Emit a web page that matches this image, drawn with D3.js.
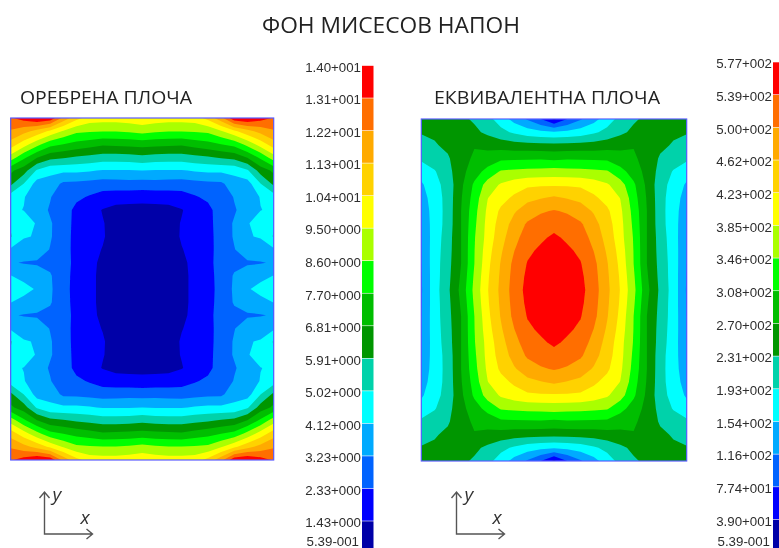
<!DOCTYPE html>
<html><head><meta charset="utf-8">
<script src="https://cdn.jsdelivr.net/npm/d3@7/dist/d3.min.js"></script>
<style>html,body{margin:0;padding:0;background:#fff;overflow:hidden}svg{display:block}</style>
</head><body><svg id="c" width="779" height="548"></svg>
<script>
const title = "ФОН МИСЕСОВ НАПОН";
const ribbedTitle = "ОРЕБРЕНА ПЛОЧА";
const equivTitle = "ЕКВИВАЛЕНТНА ПЛОЧА";
const bandColors = ["#0000a8","#0000ff","#0064ff","#00aaff","#00ffff","#00d2aa","#009600","#00be00","#00ff00","#aaff00","#ffff00","#ffd200","#ffaa00","#ff6e00","#ff0000"];
const ribbedLevels = [0.539,1.43,2.33,3.23,4.12,5.02,5.91,6.81,7.70,8.60,9.50,10.4,11.3,12.2,13.1,14.0];
const ribbedLabels = ["5.39-001","1.43+000","2.33+000","3.23+000","4.12+000","5.02+000","5.91+000","6.81+000","7.70+000","8.60+000","9.50+000","1.04+001","1.13+001","1.22+001","1.31+001","1.40+001"];
const equivLevels = [0.539,39,77.4,116,154,193,231,270,308,346,385,423,462,500,539,577];
const equivLabels = ["5.39-001","3.90+001","7.74+001","1.16+002","1.54+002","1.93+002","2.31+002","2.70+002","3.08+002","3.46+002","3.85+002","4.23+002","4.62+002","5.00+002","5.39+002","5.77+002"];
// top-left quarter of each symmetric field
const ribbedQuarter = [
[13.0,13.5,14.0,13.8,11.9,10.7,10.0,9.9,9.9,10.0,10.2],
[12.1,11.6,11.0,10.2,9.4,8.8,8.7,8.65,8.65,8.75,8.9],
[10.9,9.9,8.9,8.0,7.7,7.4,7.2,6.95,7.0,7.05,7.15],
[9.1,7.9,6.85,6.2,6.0,5.8,5.65,5.5,5.5,5.55,5.65],
[7.0,6.3,4.9,4.35,4.3,4.3,4.2,4.05,4.05,4.05,4.12],
[6.1,5.0,3.75,3.75,3.05,3.0,2.9,2.8,2.85,2.9,2.85],
[4.6,4.16,3.7,3.28,2.7,2.5,2.25,1.95,1.85,1.8,1.75],
[4.25,4.1,3.6,3.15,2.75,2.1,1.8,1.38,1.15,1.1,1.1],
[4.9,4.5,4.05,3.3,2.85,2.0,1.75,1.48,1.1,1.0,1.0],
[5.1,4.2,4.05,3.3,2.8,1.98,1.75,1.5,1.1,1.0,0.95],
[4.0,3.7,3.6,3.2,2.75,2.0,1.65,1.4,1.05,0.95,0.95],
[3.3,3.18,3.15,3.05,2.8,2.0,1.6,1.3,1.0,0.95,0.95],
[4.15,3.75,3.55,3.3,2.75,1.95,1.6,1.25,1.0,0.95,0.95],
[4.9,4.5,4.0,3.35,2.7,1.95,1.6,1.25,1.0,0.95,0.95]
];
const equivQuarter = [
[240,245,250,240,225,205,175,140,112,77,30],
[234,238,250,255,240,222,204,187,172,163,158],
[215,227,240,262,268,260,253,248,246,244,243],
[200,212,226,258,275,285,300,302,303,303,300],
[170,190,218,258,290,322,350,355,358,360,363],
[148,180,208,262,315,362,390,405,415,418,418],
[138,172,208,267,325,384,410,430,452,460,468],
[130,170,208,270,333,393,430,458,480,495,503],
[125,170,209,270,338,398,440,476,505,520,527],
[120,172,213,270,343,400,448,488,518,533,545],
[118,174,215,270,345,407,457,499,532,545,558],
[116,175,218,270,346,413,465,510,541,558,567],
[114,175,220,275,352,418,469,514,547,564,573],
[112,176,223,281,357,421,472,517,551,567,577]
];

const svg = d3.select("#c");
const defs = svg.append("defs");
defs.append("filter").attr("id","soft").attr("x","-5%").attr("y","-5%").attr("width","110%").attr("height","110%")
  .append("feGaussianBlur").attr("stdDeviation",0.45);

function mirror(q){
  const rows = q.concat(q.slice(0,-1).reverse());
  return rows.flatMap(r => r.concat(r.slice(0,-1).reverse()));
}
function field(q, levels, box, id){
  const nx = q[0].length*2-1, ny = q.length*2-1;
  const x = d3.scaleLinear().domain([0.5,nx-0.5]).range([box.x0,box.x1]);
  const y = d3.scaleLinear().domain([0.5,ny-0.5]).range([box.y0,box.y1]);
  const path = d3.geoPath(d3.geoTransform({point(a,b){this.stream.point(x(a),y(b));}}));
  defs.append("clipPath").attr("id",id).append("rect")
    .attr("x",box.x0).attr("y",box.y0).attr("width",box.x1-box.x0).attr("height",box.y1-box.y0);
  const g = svg.append("g").attr("filter","url(#soft)");
  const inner = g.append("g").attr("clip-path",`url(#${id})`);
  const contours = d3.contours().size([nx,ny]).thresholds(levels.slice(0,15))(mirror(q));
  inner.selectAll("path").data(contours).join("path")
    .attr("d",path).attr("fill",(d,i)=>bandColors[i]);
  g.append("rect").attr("x",box.x0).attr("y",box.y0).attr("width",box.x1-box.x0).attr("height",box.y1-box.y0)
    .attr("fill","none").attr("stroke","#5a5aff").attr("stroke-width",1.2);
}
function colorbar(labels, bar){
  const y = d3.scaleLinear().domain([1,15]).range([bar.y1,bar.y15]);
  const g = svg.append("g").attr("filter","url(#soft)");
  g.selectAll("rect").data(d3.range(15)).join("rect")
    .attr("x",bar.x).attr("width",bar.w)
    .attr("y",i=>y(i+1)+0.3).attr("height",i=>y(i)-y(i+1)-0.6)
    .attr("fill",i=>bandColors[i]);
  const axis = d3.axisLeft(y).tickValues(d3.range(1,16)).tickSize(0).tickPadding(1).tickFormat(i=>labels[i]);
  const a = g.append("g").attr("transform",`translate(${bar.x},1.5)`).call(axis);
  a.select(".domain").remove();
  a.selectAll("text").attr("font-family","Liberation Sans").attr("font-size",13.3).attr("fill","#2e2e2e");
  a.append("text").attr("x",-3).attr("y",bar.lastY).attr("text-anchor","end")
    .attr("font-family","Liberation Sans").attr("font-size",13.3).attr("fill","#2e2e2e").text(labels[0]);
}
function triad(ox){
  const g = svg.append("g").attr("filter","url(#soft)");
  const oy = 534;
  g.append("path").attr("fill","none").attr("stroke","#555").attr("stroke-width",1.4)
    .attr("d",`M${ox},${oy-42}V${oy}H${ox+48}M${ox-5},${oy-36}L${ox},${oy-42}L${ox+5},${oy-36}M${ox+42},${oy-5}L${ox+48},${oy}L${ox+42},${oy+5}`);
  const t = (s,dx,dy)=>g.append("text").attr("x",ox+dx).attr("y",oy+dy).attr("font-family","Open Sans")
    .attr("font-style","italic").attr("font-size",19).attr("fill","#333").text(s);
  t("y",8,-33); t("x",36,-10.5);
}
function label(s,x,y,size,len){
  svg.append("text").attr("x",x).attr("y",y).attr("font-family","Open Sans").attr("font-size",size)
    .attr("fill","#222").attr("textLength",len).attr("lengthAdjust","spacingAndGlyphs").text(s);
}
field(ribbedQuarter,ribbedLevels,{x0:10.7,x1:273.7,y0:118,y1:460},"clipA");
field(equivQuarter,equivLevels,{x0:421.3,x1:686.7,y0:119,y1:461},"clipB");
colorbar(ribbedLabels,{x:362,w:11.5,y1:521,y15:65.5,lastY:544});
colorbar(equivLabels,{x:773,w:7,y1:519.5,y15:62,lastY:544});
triad(44.5); triad(456.5);
label(title,262,33,21,258);
label(ribbedTitle,20,104,18,172);
label(equivTitle,434,104,18,226);
</script></body></html>
